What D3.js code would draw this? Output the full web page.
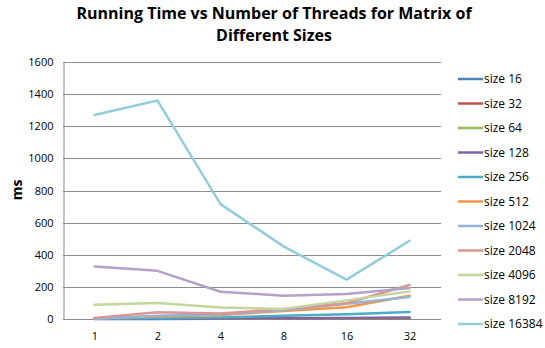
<!DOCTYPE html>
<html>
<head>
<meta charset="utf-8">
<script src="https://cdn.jsdelivr.net/npm/d3@7"></script>
<style>
  html, body { margin: 0; padding: 0; background: #fff; }
  text { font-family: "Open Sans", "Liberation Sans", sans-serif; }
</style>
</head>
<body>
<svg id="chart" width="545" height="348"></svg>
<script>
// Thread counts along the x axis
const threads = ["1", "2", "4", "8", "16", "32"];

// Running time (ms) for each matrix size
const size16    = [0.5, 0.6, 0.8, 1, 1.5, 2];
const size32    = [1, 1.5, 2, 2.5, 3, 4];
const size64    = [2, 3, 3, 4, 5, 6];
const size128   = [1, 2, 3, 5, 7, 9];
const size256   = [2, 5, 10, 20, 30, 44];
const size512   = [5, 15, 25, 50, 73, 145];
const size1024  = [1, 20, 30, 55, 95, 137];
const size2048  = [7, 42, 35, 62, 98, 212];
const size4096  = [89, 100, 71, 63, 116, 172];
const size8192  = [327, 300, 170, 145, 156, 193];
const size16384 = [1270, 1360, 715, 452, 245, 487];

const seriesNames = ["size 16", "size 32", "size 64", "size 128", "size 256", "size 512",
                     "size 1024", "size 2048", "size 4096", "size 8192", "size 16384"];
const seriesValues = [size16, size32, size64, size128, size256, size512,
                      size1024, size2048, size4096, size8192, size16384];
const seriesColors = ["#4F81BD", "#C0504D", "#9BBB59", "#8064A2", "#4BACC6", "#F79646",
                      "#95B3D7", "#D99694", "#C3D69B", "#B3A2C7", "#93CDDD"];

const yTicks = [0, 200, 400, 600, 800, 1000, 1200, 1400, 1600];

const svg = d3.select("#chart");
const plot = { left: 63, right: 441, top: 62, bottom: 319 };

const x = d3.scalePoint().domain(threads).range([plot.left, plot.right]).padding(0.5);
const y = d3.scaleLinear().domain([0, 1600]).range([plot.bottom, plot.top]);

// Horizontal gridlines
svg.append("g")
  .selectAll("line")
  .data(yTicks)
  .join("line")
  .attr("x1", plot.left).attr("x2", plot.right)
  .attr("y1", d => Math.round(y(d)) + 0.5).attr("y2", d => Math.round(y(d)) + 0.5)
  .attr("stroke", "#8c8c8c").attr("stroke-width", 1);

// Y axis
const yAxis = svg.append("g")
  .attr("transform", `translate(${plot.left + 0.5},0)`)
  .call(d3.axisLeft(y).tickValues(yTicks).tickFormat(d3.format("d")).tickSize(0).tickPadding(10));
yAxis.select(".domain").attr("stroke", "#8c8c8c");
yAxis.selectAll("text").attr("font-size", 11).attr("fill", "#000")
  .style("font-family", "'Open Sans', sans-serif");

// X axis
const xAxis = svg.append("g")
  .attr("transform", `translate(0,${Math.round(plot.bottom) + 0.5})`)
  .call(d3.axisBottom(x).tickSize(0).tickPadding(13));
xAxis.select(".domain").attr("stroke", "#8c8c8c").attr("d", `M${plot.left},0H${plot.right}`);
xAxis.selectAll("text").attr("font-size", 11).attr("fill", "#000")
  .style("font-family", "'Open Sans', sans-serif");

// Series lines
const line = d3.line().x((d, i) => x(threads[i])).y(d => y(d));
svg.append("g")
  .selectAll("path")
  .data(seriesValues)
  .join("path")
  .attr("d", d => line(d))
  .attr("fill", "none")
  .attr("stroke", (d, i) => seriesColors[i])
  .attr("stroke-width", 2.5)
  .attr("stroke-linejoin", "round")
  .attr("stroke-linecap", "round");

// Y axis title
svg.append("text")
  .attr("transform", "translate(22,190) rotate(-90)")
  .attr("text-anchor", "middle")
  .attr("font-size", 14).attr("font-weight", "bold")
  .text("ms");

// Chart title
const title = svg.append("text")
  .attr("text-anchor", "middle")
  .attr("font-size", 16).attr("font-weight", "bold");
title.append("tspan").attr("x", 274).attr("y", 19)
  .text("Running Time vs Number of Threads for Matrix of");
title.append("tspan").attr("x", 274).attr("y", 41)
  .text("Different Sizes");

// Legend
const legend = svg.append("g")
  .selectAll("g")
  .data(seriesNames)
  .join("g")
  .attr("transform", (d, i) => `translate(458,${79 + i * 24.5})`);
legend.append("line")
  .attr("x1", 0).attr("x2", 25).attr("y1", 0).attr("y2", 0)
  .attr("stroke", (d, i) => seriesColors[i]).attr("stroke-width", 2.5);
legend.append("text")
  .attr("x", 26).attr("y", 4)
  .attr("font-size", 12)
  .text(d => d);
</script>
</body>
</html>
